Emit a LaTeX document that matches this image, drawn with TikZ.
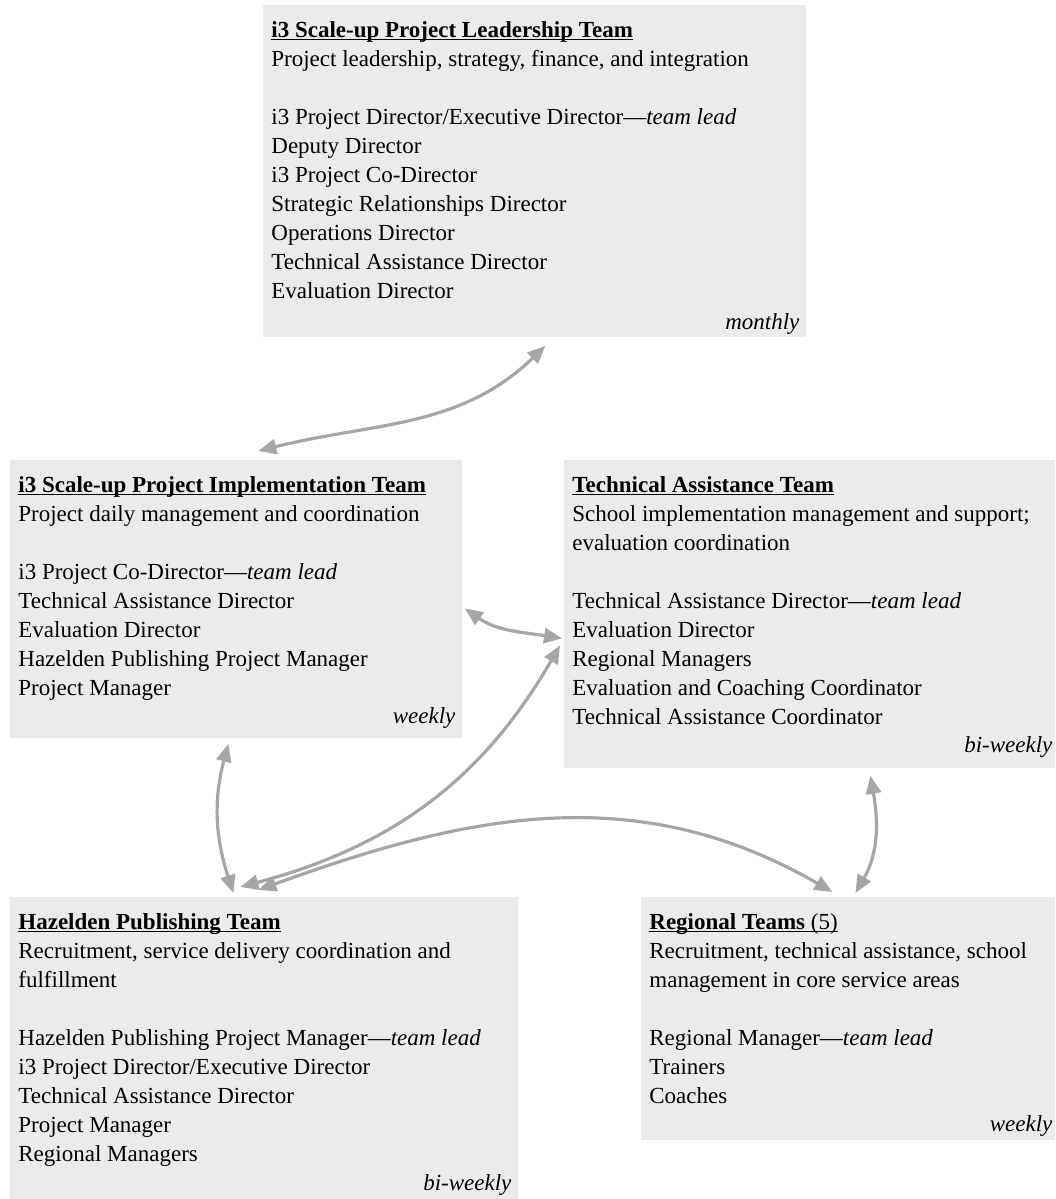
\documentclass[tikz,border=0pt]{standalone}
\usepackage{fontspec}
\setmainfont{Liberation Serif}
\usetikzlibrary{arrows.meta}

\newcommand{\teamtitle}[1]{\rule{0pt}{8pt}\setbox0\hbox{\bfseries #1}\rlap{\rule[-1.3pt]{\wd0}{0.65pt}}\box0}

\begin{document}
\begin{tikzpicture}[x=0.5pt, y=0.5pt,
  every node/.style={font=\fontsize{11.5}{14.5}\selectfont, inner sep=0pt},
  teambox/.style={anchor=north west, fill=black!8},
  teamtext/.style={anchor=north west, align=left},
  freq/.style={anchor=base east, font=\fontsize{11.5}{14.5}\selectfont\itshape},
  link/.style={black!35, line width=1.6pt, {Triangle[length=9pt,width=7.5pt]}-{Triangle[length=9pt,width=7.5pt]}}]
	\useasboundingbox (0,0) rectangle (1055,1199);
	% team boxes
	\node[teambox, minimum width=271.5pt, minimum height=166pt] (lead) at (263,1194) {};
	\node[teambox, minimum width=226pt, minimum height=139pt] (impl) at (10,739) {};
	\node[teambox, minimum width=245.5pt, minimum height=154pt] (tech) at (564,739) {};
	\node[teambox, minimum width=254pt, minimum height=151pt] (haz) at (10,302) {};
	\node[teambox, minimum width=207pt, minimum height=121.5pt] (reg) at (641,302) {};
	% contents
	\node[teamtext] (leadtext) at ([shift={(8,-16)}]lead.north west) {\teamtitle{i3 Scale-up Project Leadership Team}\\
		Project leadership, strategy, finance, and integration\\[14.5pt]
		i3 Project Director/Executive Director---\textit{team lead}\\
		Deputy Director\\ i3 Project Co-Director\\ Strategic Relationships Director\\
		Operations Director\\ Technical Assistance Director\\ Evaluation Director};
	\node[teamtext] (impltext) at ([shift={(8,-16)}]impl.north west) {\teamtitle{i3 Scale-up Project Implementation Team}\\
		Project daily management and coordination\\[14.5pt]
		i3 Project Co-Director---\textit{team lead}\\
		Technical Assistance Director\\ Evaluation Director\\
		Hazelden Publishing Project Manager\\ Project Manager};
	\node[teamtext] (techtext) at ([shift={(8,-16)}]tech.north west) {\teamtitle{Technical Assistance Team}\\
		School implementation management and support;\\ evaluation coordination\\[14.5pt]
		Technical Assistance Director---\textit{team lead}\\
		Evaluation Director\\ Regional Managers\\
		Evaluation and Coaching Coordinator\\ Technical Assistance Coordinator};
	\node[teamtext] (haztext) at ([shift={(8,-16)}]haz.north west) {\teamtitle{Hazelden Publishing Team}\\
		Recruitment, service delivery coordination and\\ fulfillment\\[14.5pt]
		Hazelden Publishing Project Manager---\textit{team lead}\\
		i3 Project Director/Executive Director\\ Technical Assistance Director\\
		Project Manager\\ Regional Managers};
	\node[teamtext] (regtext) at ([shift={(8,-16)}]reg.north west) {\teamtitle{Regional Teams \mdseries(5)}\\
		Recruitment, technical assistance, school\\ management in core service areas\\[14.5pt]
		Regional Manager---\textit{team lead}\\
		Trainers\\ Coaches};
	% meeting frequency
	\node[freq] (leadfreq) at ([shift={(-7,8)}]lead.south east) {monthly};
	\node[freq] (implfreq) at ([shift={(-7,15)}]impl.south east) {weekly};
	\node[freq] (techfreq) at ([shift={(-3,16)}]tech.south east) {bi-weekly};
	\node[freq] (hazfreq) at ([shift={(-7,9)}]haz.south east) {bi-weekly};
	\node[freq] (regfreq) at ([shift={(-3,9)}]reg.south east) {weekly};
	% links
	\draw[link] ([shift={(10.5,-8)}]lead.south) to[out=224, in=14] ([shift={(22,9)}]impl.north);
	\draw[link] ([shift={(2,-9)}]impl.east) to[out=-35, in=171] ([shift={(-2,-24)}]tech.west);
	\draw[link] ([shift={(-4,-31)}]tech.west) to[out=240, in=15] ([shift={(-24,10)}]haz.north);
	\draw[link] ([shift={(-6,7)}]haz.north) to[out=20, in=150] ([shift={(-16,5)}]reg.north);
	\draw[link] ([shift={(-8,-5)}]impl.south) to[out=255, in=108] ([shift={(-31,4)}]haz.north);
	\draw[link] ([shift={(60.5,-7)}]tech.south) to[out=280, in=60] ([shift={(7,4)}]reg.north);
\end{tikzpicture}
\end{document}
